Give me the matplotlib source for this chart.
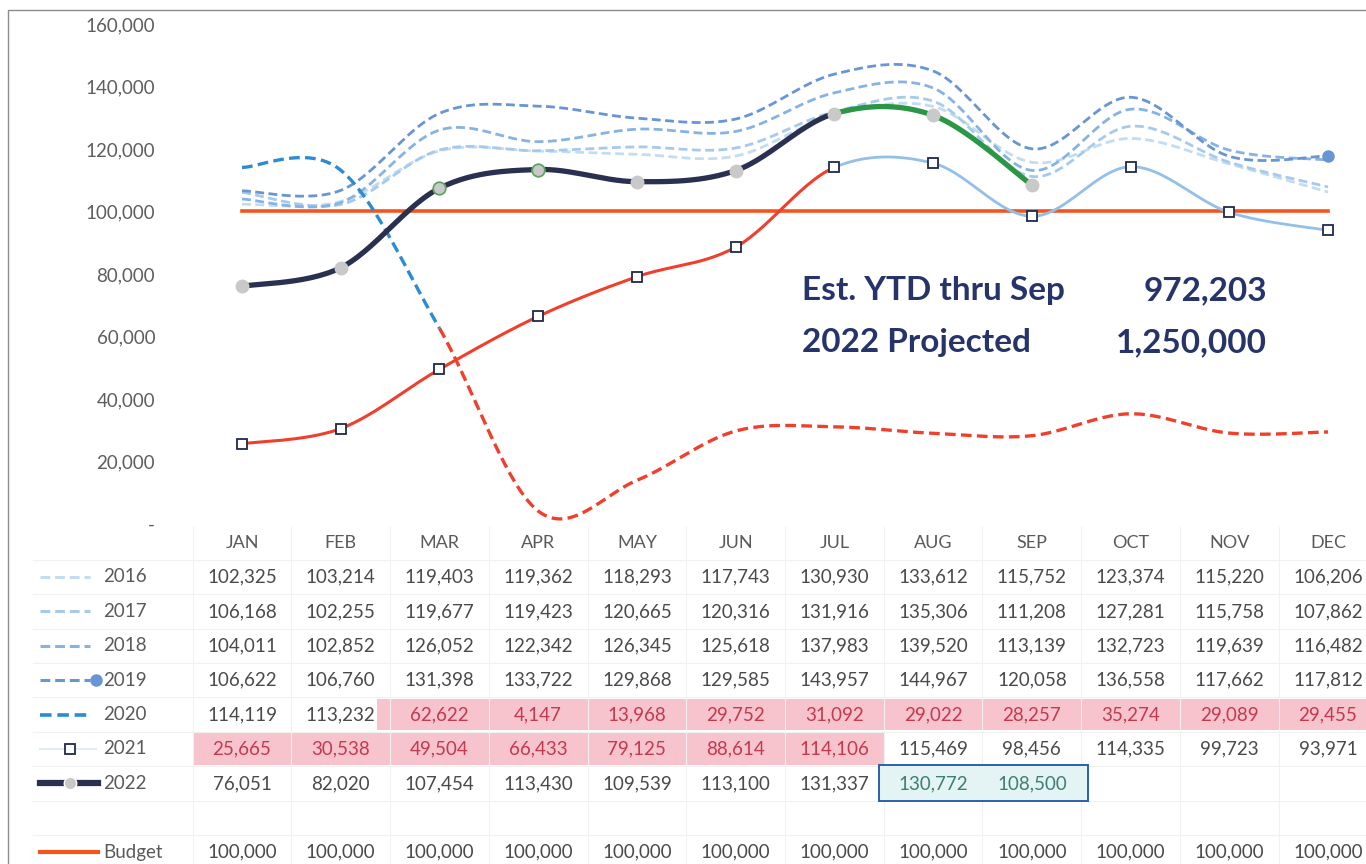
import numpy as np
import matplotlib
matplotlib.use('Agg')
import matplotlib.pyplot as plt
from matplotlib.patches import Rectangle
from matplotlib.ticker import FuncFormatter

plt.rcParams['font.family'] = ['Lato', 'DejaVu Sans']

# --- data -------------------------------------------------------------
months = ['JAN', 'FEB', 'MAR', 'APR', 'MAY', 'JUN',
          'JUL', 'AUG', 'SEP', 'OCT', 'NOV', 'DEC']
y2016 = [102325, 103214, 119403, 119362, 118293, 117743, 130930, 133612, 115752, 123374, 115220, 106206]
y2017 = [106168, 102255, 119677, 119423, 120665, 120316, 131916, 135306, 111208, 127281, 115758, 107862]
y2018 = [104011, 102852, 126052, 122342, 126345, 125618, 137983, 139520, 113139, 132723, 119639, 116482]
y2019 = [106622, 106760, 131398, 133722, 129868, 129585, 143957, 144967, 120058, 136558, 117662, 117812]
y2020 = [114119, 113232, 62622, 4147, 13968, 29752, 31092, 29022, 28257, 35274, 29089, 29455]
y2021 = [25665, 30538, 49504, 66433, 79125, 88614, 114106, 115469, 98456, 114335, 99723, 93971]
y2022 = [76051, 82020, 107454, 113430, 109539, 113100, 131337, 130772, 108500]
budget = [100000] * 12
ytd_text = ('Est. YTD thru Sep', '972,203')
proj_text = ('2022 Projected', '1,250,000')

W, H = 1366, 864
PX = 98.73          # pixels per month column
X0 = 242            # pixel x of JAN

C16, C17, C18, C19 = '#c3dcf1', '#a7caec', '#86b3e2', '#6895d3'
C20B, RED = '#2b8bd4', '#f03f2c'
C21L, NAVY, GREEN = '#93c0e8', '#2a3050', '#2b9645'
BUDGET = '#f2561d'
TXT = '#4a4a4a'


def smooth_segments(ys, n=30):
    """Excel-style smoothed line: one cubic Bezier per interval."""
    ys = np.asarray(ys, float)
    pts = np.column_stack([np.arange(len(ys), dtype=float), ys])
    t = np.linspace(0, 1, n)[:, None]
    segs = []
    for i in range(len(pts) - 1):
        p0 = pts[max(i - 1, 0)]
        p1, p2 = pts[i], pts[i + 1]
        p3 = pts[min(i + 2, len(pts) - 1)]
        c1 = p1 + (p2 - p0) / 6
        c2 = p2 - (p3 - p1) / 6
        segs.append((1 - t) ** 3 * p1 + 3 * (1 - t) ** 2 * t * c1
                    + 3 * (1 - t) * t ** 2 * c2 + t ** 3 * p2)
    return segs


def draw(ax, ys, start, stop, **kw):
    segs = smooth_segments(ys)
    path = np.vstack(segs[start:stop])
    ax.plot(path[:, 0], path[:, 1], solid_capstyle='round', **kw)


fig = plt.figure(figsize=(W / 100, H / 100), dpi=100)
fig.patch.set_facecolor('white')

xmin, xmax = -0.5, (W - X0) / PX
ax = fig.add_axes([(X0 - 0.5 * PX) / W, (H - 524) / H,
                   1 - (X0 - 0.5 * PX) / W, 500 / H])
ax.set_xlim(xmin, xmax)
ax.set_ylim(0, 160000)
for s in ax.spines.values():
    s.set_visible(False)
ax.set_xticks([])
ax.set_yticks(np.arange(0, 160001, 20000))
ax.yaxis.set_major_formatter(FuncFormatter(lambda v, p: '-' if v == 0 else f'{v:,.0f}'))
ax.tick_params(axis='y', length=0, pad=27, labelsize=13.5, labelcolor='#5e5e5e')
ax.patch.set_alpha(0)

x12 = np.arange(12)
ax.plot(x12, budget, color=BUDGET, lw=2.6, zorder=2)

dash = dict(dashes=(3.2, 1.6))
draw(ax, y2016, 0, 11, color=C16, lw=2.0, zorder=3, **dash)
draw(ax, y2017, 0, 11, color=C17, lw=2.0, zorder=3, **dash)
draw(ax, y2018, 0, 11, color=C18, lw=2.0, zorder=3, **dash)
draw(ax, y2019, 0, 11, color=C19, lw=2.0, zorder=3, **dash)
ax.plot(11, y2019[11], 'o', ms=8, color=C19, zorder=6)
draw(ax, y2020, 0, 2, color=C20B, lw=2.4, zorder=4, **dash)
draw(ax, y2020, 2, 11, color=RED, lw=2.4, zorder=4, **dash)
draw(ax, y2021, 0, 6, color=RED, lw=2.2, zorder=4)
draw(ax, y2021, 6, 11, color=C21L, lw=2.0, zorder=4)
ax.plot(x12, y2021, 's', ms=6.5, mfc='white', mec='#1f2a4a', mew=1.3, zorder=7)
draw(ax, y2022, 0, 6, color=NAVY, lw=3.8, zorder=5)
draw(ax, y2022, 6, 8, color=GREEN, lw=3.8, zorder=5)
x22 = np.arange(len(y2022))
ax.plot(x22, y2022, 'o', ms=9, mfc='#c9c9c9', mec='#c9c9c9', zorder=8)
ax.plot(x22[2:4], y2022[2:4], 'o', ms=9, mfc='#c9c9c9', mec='#5aa35a', mew=1.2, zorder=8)

tx_l = (802 - X0) / PX
tx_r = (1267 - X0) / PX
for (lab, val), yv in [(ytd_text, 74600), (proj_text, 58000)]:
    ax.text(tx_l, yv, lab, fontsize=24, fontweight='bold', color='#26346a', va='center', ha='left')
    ax.text(tx_r, yv, val, fontsize=24, fontweight='bold', color='#26346a', va='center', ha='right')

# --- data table under the chart ---------------------------------------
tab = fig.add_axes([(X0 - 0.5 * PX) / W, 0, 1 - (X0 - 0.5 * PX) / W, 1], zorder=-1)
tab.set_xlim(xmin, xmax)
tab.set_ylim(H, 0)
tab.axis('off')

HEAD_Y = 543
rows = [('2016', y2016), ('2017', y2017), ('2018', y2018), ('2019', y2019),
        ('2020', y2020), ('2021', y2021), ('2022', y2022), ('', []), ('Budget', budget)]
ROW_H = 34.4
row_y = [577 + ROW_H * k for k in range(len(rows))]

# faint cell grid
grid_c = '#f1f1f1'
for k in range(13):
    tab.plot([k - 0.5, k - 0.5], [527, H], color=grid_c, lw=0.8, clip_on=False)
for yy in [HEAD_Y + 17] + [y + ROW_H / 2 for y in row_y]:
    tab.plot([(33 - X0) / PX, xmax], [yy, yy], color=grid_c, lw=0.8, clip_on=False)

# highlights
PINK = '#f7c3cd'
tab.add_patch(Rectangle((1.37, row_y[4] - 16), xmax - 1.37, 31, color=PINK, lw=0, zorder=1))
tab.add_patch(Rectangle((-0.5, row_y[5] - 17), 7.0, 33, color=PINK, lw=0, zorder=1))
tab.add_patch(Rectangle((6.45, row_y[6] - 18), 2.12, 36, facecolor='#e4f3f3',
                        edgecolor='#2d5fae', lw=1.4, zorder=2))

for i, m in enumerate(months):
    tab.text(i, HEAD_Y, m, ha='center', va='center', fontsize=13, color='#5a5a5a', zorder=3)

for r, (lab, vals) in enumerate(rows):
    y = row_y[r]
    for i, v in enumerate(vals):
        col = TXT
        if (lab == '2020' and i >= 2) or (lab == '2021' and i <= 6):
            col = '#c23a50'
        if lab == '2022' and i >= 7:
            col = '#3d7f70'
        tab.text(i, y, f'{v:,.0f}', ha='center', va='center', fontsize=13.5, color=col, zorder=3)
    if lab:
        tab.text((103 - X0) / PX, y, lab, ha='left', va='center', fontsize=13.5,
                 color='#5a5a5a', zorder=3)

# legend keys
lx0, lx1 = (40 - X0) / PX, (90 - X0) / PX
lxm = (70 - X0) / PX
kw = dict(clip_on=False, zorder=3)
for r, c in zip(range(4), [C16, C17, C18, C19]):
    tab.plot([lx0, lx1], [row_y[r]] * 2, color=c, lw=2.2, dashes=(3.2, 1.6), **kw)
tab.plot((96 - X0) / PX, row_y[3], 'o', ms=8, color=C19, **kw)
tab.plot([lx0, lx1], [row_y[4]] * 2, color=C20B, lw=2.6, dashes=(3.2, 1.6), **kw)
tab.plot([lx0, (96 - X0) / PX], [row_y[5]] * 2, color='#e2ecf5', lw=1.5, **kw)
tab.plot(lxm, row_y[5], 's', ms=6.5, mfc='white', mec='#1f2a4a', mew=1.3, **kw)
tab.plot([lx0, (98 - X0) / PX], [row_y[6]] * 2, color=NAVY, lw=4.5, **kw)
tab.plot(lxm, row_y[6], 'o', ms=9, mfc='#c9c9c9', mec='white', mew=1, **kw)
tab.plot([lx0, (98 - X0) / PX], [row_y[8]] * 2, color=BUDGET, lw=3, **kw)

# outer frame
fig.add_artist(Rectangle((8 / W, -0.05), 1.2, (H - 10) / H + 0.05, transform=fig.transFigure,
                         fill=False, edgecolor='#8c8c8c', lw=1.0))

fig.savefig('out.png', dpi=100)
